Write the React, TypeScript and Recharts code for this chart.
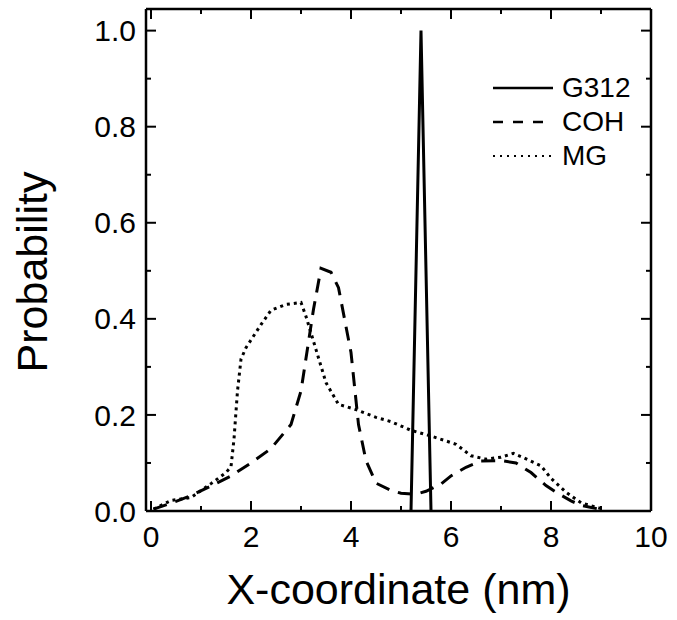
import React from "react";
import { LineChart, Line, XAxis, YAxis } from "recharts";

// G312 (solid)
const g312X = [5.2, 5.4, 5.6];
const g312Y = [0, 1.0, 0];

// COH (dashed)
const cohX = [0.05, 0.5, 0.8, 1.2, 1.6, 2.0, 2.4, 2.8, 3.0, 3.25, 3.4, 3.6, 3.75, 4.0, 4.15, 4.3, 4.5, 4.8, 5.0, 5.3, 5.5, 5.8, 6.0, 6.3, 6.6, 7.0, 7.3, 7.6, 7.9, 8.1, 8.4, 8.6, 9.0];
const cohY = [0.004, 0.02, 0.032, 0.052, 0.073, 0.1, 0.13, 0.18, 0.25, 0.42, 0.505, 0.497, 0.465, 0.33, 0.18, 0.105, 0.058, 0.043, 0.037, 0.035, 0.041, 0.056, 0.073, 0.091, 0.104, 0.105, 0.1, 0.08, 0.053, 0.039, 0.021, 0.012, 0.003];

// MG (dotted)
const mgX = [0.05, 0.4, 0.8, 1.2, 1.5, 1.6, 1.66, 1.73, 1.8, 1.9, 2.2, 2.4, 2.7, 3.0, 3.1, 3.3, 3.5, 3.75, 4.1, 4.5, 4.8, 5.2, 5.6, 6.1, 6.4, 6.7, 7.0, 7.25, 7.45, 7.8, 8.0, 8.3, 8.6, 9.0];
const mgY = [0.004, 0.022, 0.028, 0.057, 0.08, 0.092, 0.15, 0.25, 0.316, 0.34, 0.388, 0.418, 0.43, 0.434, 0.405, 0.336, 0.267, 0.222, 0.211, 0.195, 0.186, 0.168, 0.156, 0.139, 0.115, 0.108, 0.112, 0.12, 0.111, 0.094, 0.068, 0.039, 0.017, 0.005];

const xTicks = [0, 1, 2, 3, 4, 5, 6, 7, 8, 9, 10];
const yTicks = [0, 0.1, 0.2, 0.3, 0.4, 0.5, 0.6, 0.7, 0.8, 0.9, 1.0];

const zip = (xs: number[], ys: number[]) => xs.map((x, i) => ({ x, y: ys[i] }));

const FONT = "'Liberation Sans', Arial, sans-serif";
const MAJOR = 10;
const MINOR = 5;

const series = [
  { name: "G312", data: zip(g312X, g312Y), dash: undefined as string | undefined, legendDash: undefined as string | undefined },
  { name: "COH", data: zip(cohX, cohY), dash: "14 9", legendDash: "10 10" },
  { name: "MG", data: zip(mgX, mgY), dash: "3 4", legendDash: "2 5" },
];

const isMajorX = (v: number) => Math.round(v) % 2 === 0;
const isMajorY = (v: number) => Math.round(v * 10) % 2 === 0;

function BottomTick(props: any) {
  const { x, y, payload } = props;
  const major = isMajorX(payload.value);
  return (
    <g>
      <line x1={x} x2={x} y1={y} y2={y - (major ? MAJOR : MINOR)} stroke="#000" strokeWidth={2} />
      {major && (
        <text x={x} y={y + 15} dy="0.71em" textAnchor="middle" fontSize={30} fontFamily={FONT} fill="#000">
          {payload.value}
        </text>
      )}
    </g>
  );
}

function TopTick(props: any) {
  const { x, y, payload } = props;
  const major = isMajorX(payload.value);
  return <line x1={x} x2={x} y1={y} y2={y + (major ? MAJOR : MINOR)} stroke="#000" strokeWidth={2} />;
}

function LeftTick(props: any) {
  const { x, y, payload } = props;
  const major = isMajorY(payload.value);
  return (
    <g>
      <line x1={x} x2={x + (major ? MAJOR : MINOR)} y1={y} y2={y} stroke="#000" strokeWidth={2} />
      {major && (
        <text x={x - 10} y={y} dy="0.355em" textAnchor="end" fontSize={30} fontFamily={FONT} fill="#000">
          {payload.value.toFixed(1)}
        </text>
      )}
    </g>
  );
}

function RightTick(props: any) {
  const { x, y, payload } = props;
  const major = isMajorY(payload.value);
  return <line x1={x} x2={x - (major ? MAJOR : MINOR)} y1={y} y2={y} stroke="#000" strokeWidth={2} />;
}

function YLabel(props: any) {
  const vb = props.viewBox || { x: 0, y: 0, width: 146, height: 502 };
  const bx = vb.x + 47;
  const cy = vb.y + vb.height / 2 + 12;
  return (
    <text
      x={bx}
      y={cy}
      transform={`rotate(-90 ${bx} ${cy})`}
      textAnchor="middle"
      fontSize={43}
      fontFamily={FONT}
      fill="#000"
    >
      Probability
    </text>
  );
}

function LegendBox() {
  return (
    <div style={{ position: "absolute", left: 493, top: 71, fontFamily: FONT, fontSize: 28, color: "#000" }}>
      {series.map((s) => (
        <div key={s.name} style={{ display: "flex", alignItems: "center", height: 34 }}>
          <svg width={60} height={10}>
            <line x1={0} x2={60} y1={5} y2={5} stroke="#000" strokeWidth={s.legendDash === "2 5" ? 2 : 2.5} strokeDasharray={s.legendDash} />
          </svg>
          <span style={{ marginLeft: 9, lineHeight: "34px" }}>{s.name}</span>
        </div>
      ))}
    </div>
  );
}

export default function App() {
  return (
    <div style={{ position: "absolute", left: 0, top: 0, width: 677, height: 620, background: "#fff" }}>
      <LineChart width={677} height={620} margin={{ top: 8, right: 25, bottom: 0, left: 0 }}>
        <XAxis
          xAxisId="b"
          dataKey="x"
          type="number"
          domain={[-0.1, 10]}
          ticks={xTicks}
          interval={0}
          allowDataOverflow
          height={109}
          tickSize={0}
          tickMargin={0}
          tickLine={false}
          axisLine={{ stroke: "#000", strokeWidth: 2.5 }}
          tick={<BottomTick />}
          label={{
            value: "X-coordinate (nm)",
            position: "insideBottom",
            offset: 16,
            fontSize: 43,
            fontFamily: FONT,
            fill: "#000",
          }}
        />
        <XAxis
          xAxisId="t"
          dataKey="x"
          type="number"
          orientation="top"
          domain={[-0.1, 10]}
          ticks={xTicks}
          interval={0}
          allowDataOverflow
          height={1}
          tickSize={0}
          tickMargin={0}
          tickLine={false}
          axisLine={{ stroke: "#000", strokeWidth: 2.5 }}
          tick={<TopTick />}
        />
        <YAxis
          yAxisId="l"
          type="number"
          domain={[0, 1.045]}
          ticks={yTicks}
          interval={0}
          allowDataOverflow
          width={146}
          tickSize={0}
          tickMargin={0}
          tickLine={false}
          axisLine={{ stroke: "#000", strokeWidth: 2.5 }}
          tick={<LeftTick />}
          label={{ content: <YLabel /> }}
        />
        <YAxis
          yAxisId="r"
          type="number"
          orientation="right"
          domain={[0, 1.045]}
          ticks={yTicks}
          interval={0}
          allowDataOverflow
          width={1}
          tickSize={0}
          tickMargin={0}
          tickLine={false}
          axisLine={{ stroke: "#000", strokeWidth: 2.5 }}
          tick={<RightTick />}
        />
        {series.map((s) => (
          <Line
            key={s.name}
            xAxisId="b"
            yAxisId="l"
            data={s.data}
            dataKey="y"
            name={s.name}
            type="linear"
            stroke="#000"
            strokeWidth={3}
            strokeDasharray={s.dash}
            dot={false}
            activeDot={false}
            isAnimationActive={false}
          />
        ))}
      </LineChart>
      <LegendBox />
    </div>
  );
}
